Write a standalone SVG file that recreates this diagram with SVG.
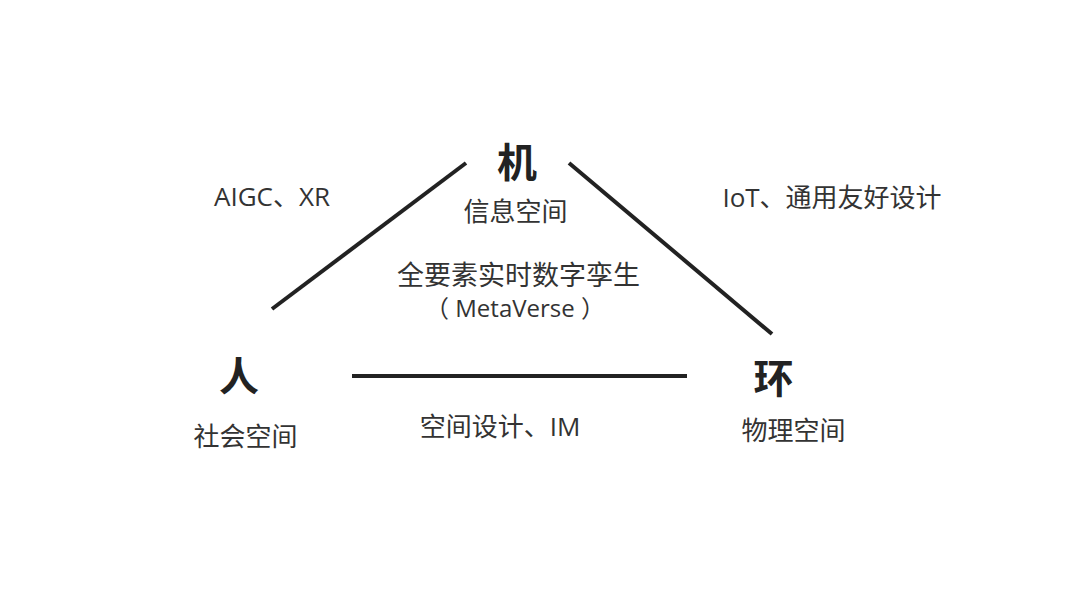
<svg xmlns="http://www.w3.org/2000/svg" width="1080" height="601" viewBox="0 0 1080 601">
<style>
.t{font-family:"Open Sans","Noto Sans CJK SC",sans-serif;fill:#333;text-anchor:middle}
.big{font-size:40px;font-weight:bold;fill:#222}
.lbl{font-size:26px}
.mid{font-size:27px}
.meta{font-size:24px}
.edge{stroke:#222;stroke-width:4;stroke-linecap:butt;fill:none}
</style>
<rect width="1080" height="601" fill="#ffffff"/>
<g id="connectors">
<line class="edge" x1="272" y1="309" x2="466" y2="163"/>
<line class="edge" x1="569" y1="163" x2="772" y2="334"/>
<line class="edge" x1="352" y1="376" x2="687" y2="376"/>
</g>
<g id="node-ji">
<text class="t big" x="517" y="177">机</text>
<text class="t lbl" x="515.5" y="221">信息空间</text>
</g>
<g id="node-ren">
<text class="t big" x="239" y="391">人</text>
<text class="t lbl" x="245.5" y="446">社会空间</text>
</g>
<g id="node-huan">
<text class="t big" x="773.5" y="393">环</text>
<text class="t lbl" x="793.5" y="440">物理空间</text>
</g>
<g id="center">
<text class="t mid" x="518.5" y="285">全要素实时数字孪生</text>
<text class="t meta" x="515" y="316.5">（ MetaVerse ）</text>
</g>
<g id="edge-labels">
<text class="t lbl" x="272" y="206">AIGC、XR</text>
<text class="t lbl" x="832" y="207">IoT、通用友好设计</text>
<text class="t lbl" x="500" y="436">空间设计、IM</text>
</g>
</svg>
